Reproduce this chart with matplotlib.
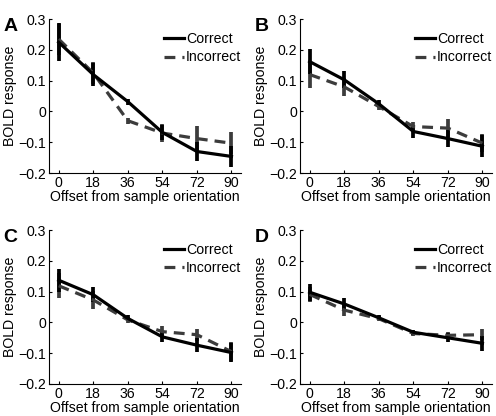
import numpy as np
import matplotlib
matplotlib.use('Agg')
import matplotlib.pyplot as plt
from matplotlib.lines import Line2D

plt.rcParams['font.family'] = ['Liberation Sans', 'DejaVu Sans']

offsets = [0, 18, 36, 54, 72, 90]
panels = ['A', 'B', 'C', 'D']

# mean BOLD response per panel
correct = {
    'A': [0.225, 0.120, 0.032, -0.068, -0.130, -0.146],
    'B': [0.162, 0.103, 0.025, -0.065, -0.088, -0.113],
    'C': [0.137, 0.090, 0.013, -0.047, -0.074, -0.098],
    'D': [0.098, 0.060, 0.015, -0.032, -0.050, -0.068],
}
incorrect = {
    'A': [0.235, 0.125, -0.030, -0.070, -0.088, -0.103],
    'B': [0.120, 0.080, 0.016, -0.049, -0.054, -0.103],
    'C': [0.119, 0.073, 0.008, -0.030, -0.040, -0.095],
    'D': [0.091, 0.040, 0.012, -0.036, -0.042, -0.040],
}
# error bar half-lengths
correct_err = {
    'A': [0.062, 0.038, 0.010, 0.025, 0.032, 0.035],
    'B': [0.040, 0.028, 0.012, 0.022, 0.028, 0.035],
    'C': [0.038, 0.025, 0.010, 0.018, 0.022, 0.030],
    'D': [0.028, 0.020, 0.008, 0.008, 0.015, 0.025],
}
incorrect_err = {
    'A': [0.050, 0.035, 0.010, 0.030, 0.040, 0.035],
    'B': [0.045, 0.030, 0.012, 0.015, 0.030, 0.030],
    'C': [0.040, 0.030, 0.010, 0.018, 0.020, 0.030],
    'D': [0.025, 0.018, 0.008, 0.008, 0.010, 0.018],
}

fig = plt.figure(figsize=(4.96, 4.16), dpi=100)

positions = {
    'A': [0.099, 0.584, 0.387, 0.370],
    'B': [0.605, 0.584, 0.387, 0.370],
    'C': [0.099, 0.077, 0.387, 0.370],
    'D': [0.605, 0.077, 0.387, 0.370],
}

fs = 10.2
grey = '#3c3c3c'
dash = (0, (3.4, 2.2))

for p in panels:
    ax = fig.add_axes(positions[p])
    ax.errorbar(offsets, incorrect[p], yerr=incorrect_err[p], color=grey,
                lw=2.3, ls=dash, elinewidth=2.7, capsize=0)
    ax.errorbar(offsets, correct[p], yerr=correct_err[p], color='black',
                lw=2.3, elinewidth=2.7, capsize=0)
    ax.set_xlim(-5, 95)
    ax.set_ylim(-0.2, 0.3)
    ax.set_xticks(offsets)
    ax.set_yticks([-0.2, -0.1, 0, 0.1, 0.2, 0.3])
    ax.set_yticklabels(['\u22120.2', '\u22120.1', '0', '0.1', '0.2', '0.3'])
    ax.tick_params(direction='in', length=2, labelsize=fs, pad=2)
    for s in ['top', 'right']:
        ax.spines[s].set_visible(False)
    ax.set_xlabel('Offset from sample orientation', fontsize=fs, labelpad=0)
    ax.set_ylabel('BOLD response', fontsize=fs, labelpad=1)
    handles = [Line2D([], [], color='black', lw=2.3),
               Line2D([], [], color=grey, lw=2.3, ls=dash)]
    ax.legend(handles, ['Correct', 'Incorrect'], loc='upper right', frameon=False,
              fontsize=fs, handlelength=1.4, handletextpad=0.15, labelspacing=0.3,
              borderaxespad=0, borderpad=0, bbox_to_anchor=(1.0, 0.915))
    fig.text(positions[p][0] - 0.092, positions[p][1] + positions[p][3] - 0.018, p,
             fontsize=14, fontweight='bold', va='center', ha='left')

fig.savefig('out.png', dpi=100)
